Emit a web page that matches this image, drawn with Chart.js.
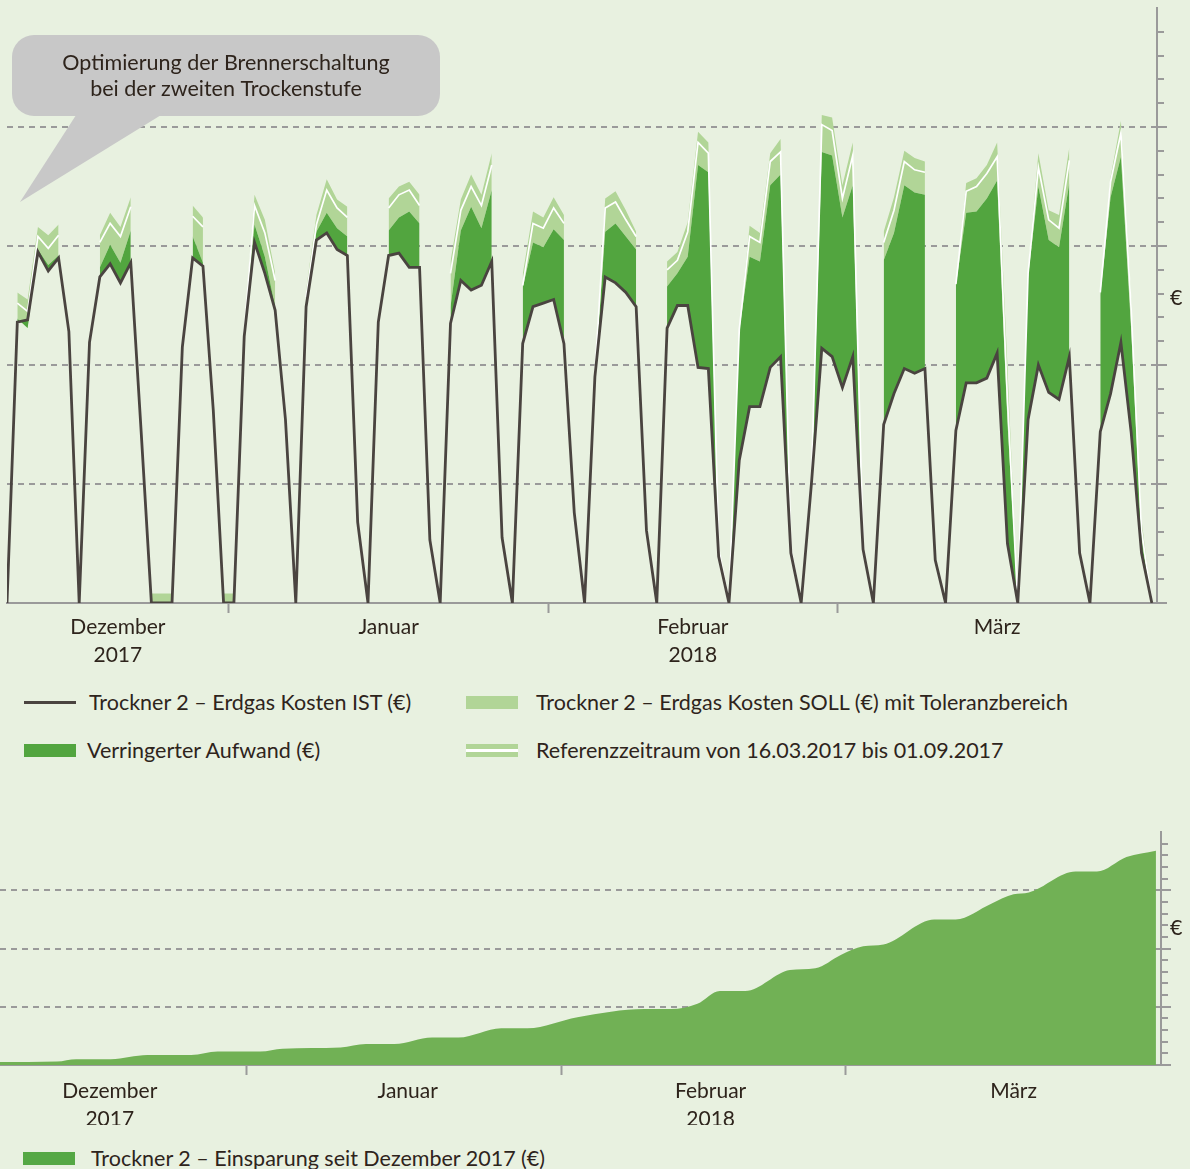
<!DOCTYPE html>
<html lang="de">
<head>
<meta charset="utf-8">
<title>Trockner 2 – Erdgas Kosten und Einsparung</title>
<script src="https://cdn.jsdelivr.net/npm/chart.js@4.4.1/dist/chart.umd.min.js"></script>
<style>
  html, body { margin: 0; padding: 0; }
  body { width: 1190px; height: 1169px; background: #e8f1e0; position: relative; overflow: hidden;
         font-family: Lato, "Noto Sans", sans-serif; color: #2e241c; }
  canvas { position: absolute; left: 0; }
  #oben { top: 0; }
  #unten { top: 800px; }
  .txt { position: absolute; font-size: 21.5px; line-height: 22px; white-space: nowrap; }
  .sym { position: absolute; }
</style>
</head>
<body>
<canvas id="oben" width="1190" height="680"></canvas>
<canvas id="unten" width="1190" height="340"></canvas>

<div class="txt" style="left:1170px;top:286px">€</div>
<div class="txt" style="left:1170px;top:916px">€</div>

<div class="sym" style="left:24px;top:701px;width:52px;height:3px;background:#4a4440"></div>
<div class="txt" style="left:89px;top:691px">Trockner 2 – Erdgas Kosten IST (€)</div>
<div class="sym" style="left:466px;top:696px;width:52px;height:13px;background:#b1d597"></div>
<div class="txt" style="left:536px;top:691px">Trockner 2 – Erdgas Kosten SOLL (€) mit Toleranzbereich</div>
<div class="sym" style="left:24px;top:744px;width:52px;height:13px;background:#52a53f"></div>
<div class="txt" style="left:87px;top:739px">Verringerter Aufwand (€)</div>
<div class="sym" style="left:466px;top:744px;width:52px;height:13px;background:#b1d597">
  <div style="position:absolute;left:0;top:5px;width:52px;height:3px;background:#fff"></div>
</div>
<div class="txt" style="left:536px;top:739px">Referenzzeitraum von 16.03.2017 bis 01.09.2017</div>

<div class="sym" style="left:23px;top:1152px;width:52px;height:13px;background:#55a845"></div>
<div class="txt" style="left:91px;top:1147px">Trockner 2 – Einsparung seit Dezember 2017 (€)</div>

<script>
// Tageswerte 10.12.2017 bis 31.03.2018 (eine Zeile = eine Woche, So..Sa)
const istKosten = [
  0, 2.36, 2.38, 2.95, 2.79, 2.90, 2.28,
  0, 2.19, 2.74, 2.85, 2.69, 2.86, 1.45,
  0, 0, 0, 2.15, 2.90, 2.83, 1.62,
  0, 0, 2.24, 3.03, 2.77, 2.46, 1.54,
  0, 2.49, 3.05, 3.11, 2.97, 2.92, 0.68,
  0, 2.36, 2.92, 2.94, 2.82, 2.82, 0.53,
  0, 2.35, 2.71, 2.63, 2.67, 2.87, 0.55,
  0, 2.18, 2.49, 2.52, 2.55, 2.18, 0.76,
  0, 1.90, 2.74, 2.69, 2.61, 2.49, 0.61,
  0, 2.31, 2.50, 2.50, 1.98, 1.97, 0.39,
  0, 1.20, 1.65, 1.65, 1.98, 2.07, 0.42,
  0, 1.01, 2.14, 2.07, 1.81, 2.07, 0.45,
  0, 1.50, 1.76, 1.97, 1.93, 1.97, 0.36,
  0, 1.45, 1.85, 1.85, 1.89, 2.10, 0.50,
  0, 1.54, 2.00, 1.77, 1.71, 2.07, 0.42,
  0, 1.44, 1.76, 2.19, 1.43, 0.42, 0
];

// Referenz (weisse Linie)
const sollKosten = [
  null, 2.52, 2.45, 3.08, 2.98, 3.09, null,
  null, null, 3.03, 3.19, 3.08, 3.33, null,
  null, null, null, null, 3.25, 3.16, null,
  null, null, 2.27, 3.34, 3.11, 2.71, null,
  null, 2.57, 3.18, 3.47, 3.32, 3.24, null,
  null, null, 3.32, 3.43, 3.47, 3.34, null,
  null, 2.77, 3.30, 3.50, 3.34, 3.68, null,
  null, 2.67, 3.19, 3.15, 3.32, 3.19, null,
  null, 1.92, 3.32, 3.37, 3.22, 3.08, null,
  null, 2.80, 2.88, 3.12, 3.87, 3.78, 0.46,
  0, 2.30, 3.08, 3.03, 3.71, 3.79, 0.46,
  0, 1.03, 4.02, 3.97, 3.40, 3.76, 0.49,
  null, 3.03, 3.30, 3.71, 3.64, 3.62, null,
  null, 2.68, 3.46, 3.50, 3.61, 3.75, 1.71,
  0, 2.77, 3.66, 3.22, 3.15, 3.72, null,
  null, 2.61, 3.54, 3.95, 2.46, 0.61, 0
];

const toleranzOben = [
  null, 2.61, 2.55, 3.16, 3.09, 3.18, null,
  null, null, 3.09, 3.28, 3.16, 3.41, null,
  0.08, 0.08, 0.08, null, 3.34, 3.24, null,
  0.08, 0.08, 2.29, 3.43, 3.22, 2.77, null,
  null, 2.63, 3.26, 3.56, 3.39, 3.33, null,
  null, null, 3.40, 3.50, 3.54, 3.43, null,
  null, 2.87, 3.39, 3.60, 3.43, 3.78, null,
  null, 2.76, 3.29, 3.24, 3.41, 3.26, null,
  null, 1.94, 3.40, 3.46, 3.30, 3.12, null,
  null, 2.87, 2.95, 3.20, 3.96, 3.87, 0.49,
  0, 2.31, 3.17, 3.11, 3.78, 3.90, 0.49,
  0, 1.05, 4.10, 4.08, 3.51, 3.87, 0.53,
  null, 3.12, 3.41, 3.80, 3.74, 3.71, null,
  null, 2.69, 3.53, 3.57, 3.68, 3.87, 1.99,
  0, 2.80, 3.78, 3.30, 3.26, 3.83, null,
  null, 2.63, 3.58, 4.05, 2.55, 0.70, 0
];

const toleranzUnten = [
  null, 2.39, 2.31, 2.97, 2.84, 2.92, null,
  null, null, 2.82, 3.01, 2.86, 3.13, null,
  0, 0, 0, null, 3.08, 2.86, null,
  0, 0, 2.24, 3.18, 2.91, 2.49, null,
  null, 2.50, 3.12, 3.28, 3.15, 3.08, null,
  null, null, 3.13, 3.24, 3.29, 3.19, null,
  null, 2.49, 3.13, 3.33, 3.15, 3.47, null,
  null, 2.65, 3.03, 2.99, 3.14, 3.05, null,
  null, 1.90, 3.12, 3.19, 3.08, 2.97, null,
  null, 2.66, 2.77, 2.91, 3.68, 3.62, 0.42,
  0, 2.29, 2.91, 2.87, 3.51, 3.60, 0.45,
  0, 1.02, 3.79, 3.76, 3.24, 3.51, 0.46,
  null, 2.88, 3.11, 3.51, 3.45, 3.43, null,
  null, 2.67, 3.28, 3.29, 3.40, 3.55, 1.52,
  0, 2.74, 3.50, 3.05, 2.99, 3.53, null,
  null, 2.59, 3.41, 3.75, 2.29, 0.53, 0
];

// kumulierte Einsparung (Tag seit 10.12.2017, Wert)
const einsparTage = [-2.7, 2.9, 4.8, 8.2, 11.8, 16.1, 18.7, 22.9, 25.1, 30.8,
  33.3, 36.1, 39.8, 42.4, 46.6, 49.2, 54.1, 60.7, 63.3, 65.9,
  68.1, 70.6, 75.0, 77.5, 80.0, 82.2, 84.2, 89.2, 91.3, 94.8,
  97.0, 98.5, 103.1, 105.2, 108.1, 111.0];
const einsparung = [0.05, 0.06, 0.10, 0.10, 0.17, 0.17, 0.23, 0.23, 0.28, 0.30,
  0.36, 0.36, 0.47, 0.47, 0.63, 0.63, 0.82, 0.96, 0.96, 1.05,
  1.27, 1.27, 1.63, 1.66, 1.89, 2.04, 2.07, 2.50, 2.50, 2.77,
  2.93, 2.96, 3.32, 3.32, 3.57, 3.68];

const monatsNamen = [['Dezember', '2017'], ['Januar'], ['Februar', '2018'], ['März']];
const monatsGrenzen = [21.5, 52.5, 80.5];
const mittenOben = [10.75, 37, 66.5, 96];
const mittenUnten = [8.1, 37.4, 67.2, 97];

const blaseText = ['Optimierung der Brennerschaltung', 'bei der zweiten Trockenstufe'];
const blaseSpitze = [1.26, 3.37];

const textFarbe = '#2e241c';
const achsGrau = '#9a9a9a';
const schrift = 'Lato, "Noto Sans", sans-serif';

Chart.defaults.font.family = schrift;
Chart.defaults.color = textFarbe;

function punkte(werte) {
  return werte.map((v, i) => ({ x: i, y: v }));
}

function istGanz(v) {
  return Math.abs(v - Math.round(v)) < 1e-6;
}

function xAchse(min, max, mitten, hoehe, abstand) {
  return {
    type: 'linear', position: 'bottom', min: min, max: max,
    afterBuildTicks: s => {
      s.ticks = [...mitten, ...monatsGrenzen].sort((a, b) => a - b).map(v => ({ value: v }));
    },
    afterFit: s => { s.height = hoehe; },
    ticks: {
      autoSkip: false, maxRotation: 0, padding: abstand,
      font: { size: 21, lineHeight: 1.3 }, color: textFarbe,
      callback: v => {
        const k = mitten.indexOf(v);
        return k >= 0 ? monatsNamen[k] : '';
      }
    },
    grid: {
      drawOnChartArea: false, tickLength: 10, tickWidth: 2,
      tickColor: c => monatsGrenzen.includes(c.tick.value) ? achsGrau : 'transparent'
    },
    border: { color: achsGrau, width: 2 }
  };
}

function yAchse(max) {
  return {
    type: 'linear', position: 'right', min: 0, max: max,
    afterFit: s => { s.width = 10; },
    ticks: { display: false, stepSize: 0.2, maxTicksLimit: 100 },
    grid: {
      lineWidth: 2,
      color: c => (istGanz(c.tick.value) && c.tick.value > 0 && c.tick.value < max) ? achsGrau : 'transparent',
      tickLength: 10, tickWidth: 2,
      tickColor: c => c.tick.value < max - 0.01 ? achsGrau : 'transparent',
      tickBorderDash: c => istGanz(c.tick.value) ? [] : [6, 20]
    },
    border: { color: achsGrau, width: 2, dash: [6, 5] }
  };
}

function rundRechteck(ctx, x, y, b, h, r) {
  ctx.beginPath();
  ctx.moveTo(x + r, y);
  ctx.arcTo(x + b, y, x + b, y + h, r);
  ctx.arcTo(x + b, y + h, x, y + h, r);
  ctx.arcTo(x, y + h, x, y, r);
  ctx.arcTo(x, y, x + b, y, r);
  ctx.closePath();
}

const sprechblase = {
  id: 'sprechblase',
  afterDraw(chart) {
    const ctx = chart.ctx;
    const sx = chart.scales.x.getPixelForValue(blaseSpitze[0]);
    const sy = chart.scales.y.getPixelForValue(blaseSpitze[1]);
    ctx.save();
    ctx.fillStyle = '#c8c8c8';
    rundRechteck(ctx, 12, 35, 428, 81, 22);
    ctx.fill();
    ctx.beginPath();
    ctx.moveTo(78, 112);
    ctx.lineTo(166, 112);
    ctx.lineTo(sx, sy);
    ctx.closePath();
    ctx.fill();
    ctx.fillStyle = textFarbe;
    ctx.font = '21.5px ' + schrift;
    ctx.textAlign = 'center';
    ctx.textBaseline = 'middle';
    ctx.fillText(blaseText[0], 226, 63);
    ctx.fillText(blaseText[1], 226, 89);
    ctx.restore();
  }
};

new Chart(document.getElementById('oben'), {
  type: 'line',
  data: {
    datasets: [
      { label: 'Trockner 2 – Erdgas Kosten IST (€)', data: punkte(istKosten),
        borderColor: '#4a4440', borderWidth: 2.8, pointRadius: 0, fill: false },
      { label: 'Referenzzeitraum von 16.03.2017 bis 01.09.2017', data: punkte(sollKosten),
        borderColor: '#ffffff', borderWidth: 1.7, pointRadius: 0, fill: false },
      { label: 'Verringerter Aufwand (€)', data: punkte(toleranzUnten),
        borderWidth: 0, pointRadius: 0, fill: 0, backgroundColor: '#52a53f' },
      { label: 'Trockner 2 – Erdgas Kosten SOLL (€) mit Toleranzbereich', data: punkte(toleranzOben),
        borderWidth: 0, pointRadius: 0, fill: 2, backgroundColor: '#b1d597' }
    ]
  },
  options: {
    responsive: false, animation: false, events: [],
    layout: { padding: { left: 7, top: 8, right: 23, bottom: 10 } },
    plugins: { legend: { display: false }, tooltip: { enabled: false } },
    scales: {
      x: xAchse(0, 111.5, mittenOben, 67, 1),
      y: yAchse(5)
    }
  },
  plugins: [sprechblase]
});

new Chart(document.getElementById('unten'), {
  type: 'line',
  data: {
    datasets: [
      { label: 'Trockner 2 – Einsparung seit Dezember 2017 (€)',
        data: einsparTage.map((t, i) => ({ x: t, y: einsparung[i] })),
        borderWidth: 0, pointRadius: 0, fill: 'origin', backgroundColor: '#71b155',
        cubicInterpolationMode: 'monotone' }
    ]
  },
  options: {
    responsive: false, animation: false, events: [],
    layout: { padding: { left: 0, top: 32, right: 19, bottom: 15 } },
    plugins: { legend: { display: false }, tooltip: { enabled: false } },
    scales: {
      x: xAchse(-2.7, 111.5, mittenUnten, 60, 3),
      y: yAchse(4)
    }
  }
});
</script>
</body>
</html>
